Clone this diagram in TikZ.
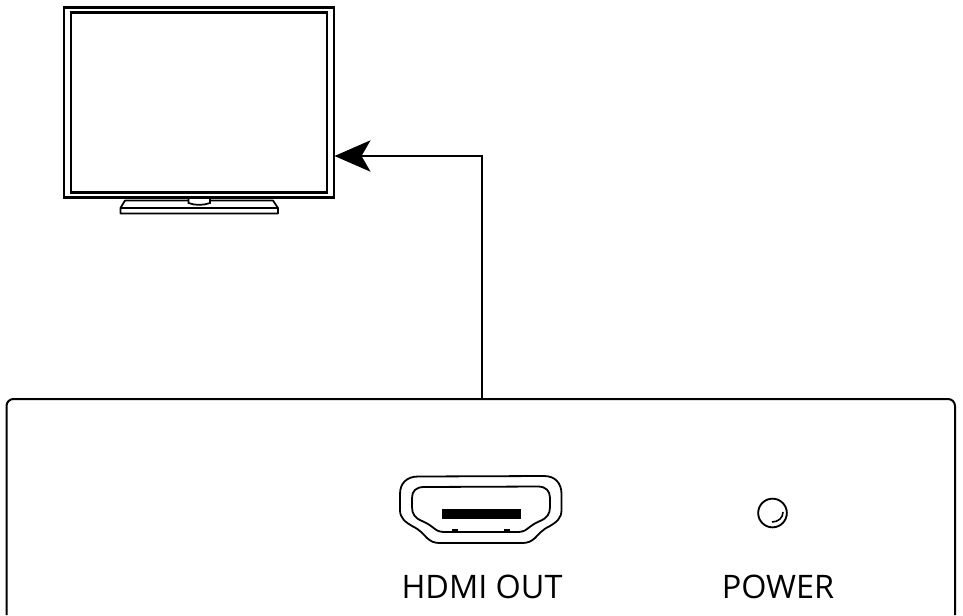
\documentclass[tikz,border=0pt]{standalone}
\usepackage{fontspec}
\setmainfont{Open Sans}
\usetikzlibrary{arrows.meta}
\tikzset{
  thinline/.style={draw=black,line width=1.35pt},
  midline/.style={draw=black,line width=1.3pt},
  tvframe/.style={draw=black,line width=1.7pt,rectangle,inner sep=0pt,outer sep=0pt},
  conn/.style={draw=black,line width=1.35pt,-{Stealth[length=27pt,width=23.5pt,inset=6.75pt]}},
  caption/.style={font=\fontsize{24.3pt}{30pt}\selectfont,anchor=base,inner sep=0pt,text=black},
}
\begin{document}
\begin{tikzpicture}[x=0.75pt,y=-0.75pt]
\useasboundingbox (0,0) rectangle (963,615);
\fill[white] (0,0) rectangle (963,615);
% TV
\node[tvframe,minimum width=202pt,minimum height=142.5pt] (tv) at (199,102.5) {};
\node[tvframe,minimum width=192.5pt,minimum height=135pt] (screen) at (199,102.5) {};
\coordinate (tvport) at (334.5,156);
\draw[midline,line join=round] (120.5,213.5) -- (120.5,208) -- (125,200.5) -- (273,200.5) -- (278,208) -- (278,213.5) -- cycle;
\draw[midline] (120.5,208) -- (278,208);
\fill[white] (189,199) rectangle (209,204);
\draw[midline] (188.5,198) -- (188.5,203) .. controls (195,205.5) and (203,205.5) .. (210,203) -- (210,198);
% Device
\coordinate (devtop) at (482,399);
\draw[midline,line width=1.5pt,rounded corners=7*0.75pt] (6.5,615) -- (6.5,399) -- (955,399) -- (955,615);
% HDMI
\draw[thinline,line join=round] (418,476.5) -- (544,476) .. controls (555,476) and (561.5,483) .. (561.5,494) -- (561.5,510) .. controls (561.5,518) and (557,522) .. (549,526.5) .. controls (542,530) and (540,533) .. (535,538) .. controls (531,541.5) and (528,543) .. (522,543) -- (440,543) .. controls (434,543) and (431,541.5) .. (427,538) .. controls (422,533) and (420,530) .. (413,526.5) .. controls (405,522) and (400,518) .. (400,510) -- (400,494) .. controls (400,483) and (407,476.5) .. (418,476.5) -- cycle;
\draw[thinline,line join=round] (424,487) -- (538,486.5) .. controls (546,486.5) and (550,491) .. (550,498) -- (550,507) .. controls (550,514) and (547,518) .. (540,521) .. controls (534,523.5) and (531,526) .. (527,529) .. controls (524,531.5) and (521,532) .. (516,532) -- (446,532) .. controls (441,532) and (438,531.5) .. (435,529) .. controls (431,526) and (428,523.5) .. (422,521) .. controls (415,518) and (412,514) .. (412,507) -- (412,498) .. controls (412,491) and (416,487) .. (424,487) -- cycle;
\fill[black] (442,509) rectangle (521,519);
\fill[black] (452,529) rectangle (458,532.5);
\fill[black] (504,529) rectangle (510,532.5);
% Power
\node[draw=black,line width=1.4pt,circle,minimum size=21.5pt,inner sep=0pt] (pwr) at (772.5,513) {};
\draw[black,line width=1.2pt] (772,522) .. controls (778,522) and (783,518) .. (783,512);
% Labels
\node[caption] (hdmi) at (482,598) {HDMI OUT};
\node[caption] (power) at (778,598) {POWER};
% Connector
\draw[conn] (devtop) |- (tvport);
\end{tikzpicture}
\end{document}
